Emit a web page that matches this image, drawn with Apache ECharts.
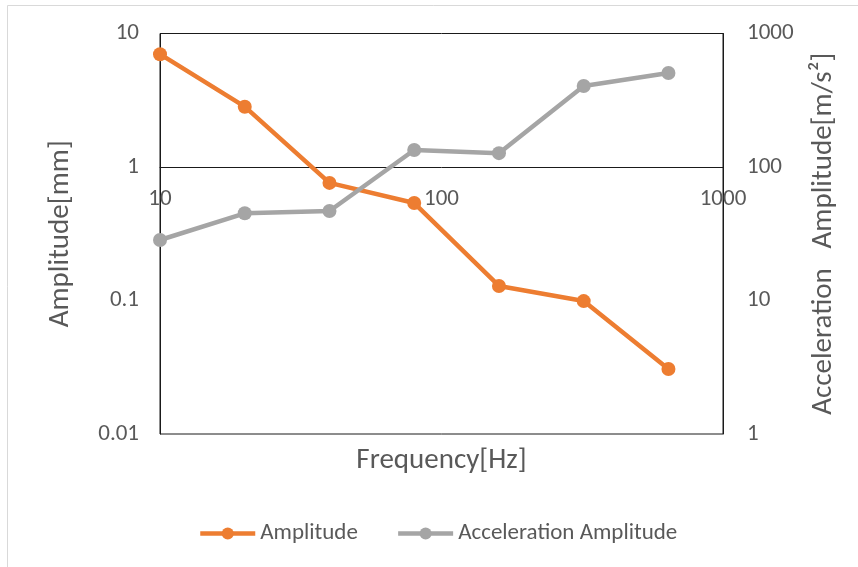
<!DOCTYPE html>
<html>
<head>
<meta charset="utf-8">
<script src="https://cdn.jsdelivr.net/npm/echarts@6/dist/echarts.min.js"></script>
<style>
html,body{margin:0;padding:0;background:#fff;}
#chart{width:858px;height:567px;}
</style>
</head>
<body>
<div id="chart"></div>
<script>
var frequency = [10, 20, 40, 80, 160, 320, 640];
var amplitude = [7.0, 2.83, 0.76, 0.537, 0.1285, 0.099, 0.0307];
var acceleration = [28.4, 45, 46.8, 134, 127, 404, 506];
var seriesNames = ['Amplitude', 'Acceleration Amplitude'];

var FONT = 'Carlito, Lato, sans-serif';
var TXT = '#595959';

function pairs(xs, ys) { return xs.map(function (x, i) { return [x, ys[i]]; }); }
function plain(v) { return String(v); }

var chart = echarts.init(document.getElementById('chart'));
chart.setOption({
  backgroundColor: '#fff',
  animation: false,
  textStyle: { fontFamily: FONT, color: TXT },
  graphic: [{
    type: 'rect', silent: true, z: -1,
    shape: { x: 7.5, y: 5.5, width: 860, height: 570 },
    style: { fill: 'none', stroke: '#d9d9d9', lineWidth: 1 }
  }],
  grid: { left: 160, right: 135, top: 33.5, bottom: 133, show: true, borderColor: '#1a1a1a', borderWidth: 1 },
  legend: {
    top: 517, left: 193,
    itemWidth: 55, itemHeight: 15, itemGap: 38,
    lineStyle: { width: 4.5 },
    textStyle: { fontFamily: FONT, color: TXT, fontSize: 23 },
    data: seriesNames
  },
  xAxis: {
    type: 'log', logBase: 10, min: 10, max: 1000,
    offset: -267,
    axisLine: { show: true, lineStyle: { color: '#1a1a1a', width: 1 } },
    axisTick: { show: false },
    splitLine: { show: false },
    axisLabel: { fontFamily: FONT, color: TXT, fontSize: 23, margin: 21, formatter: plain },
    name: 'Frequency[Hz]', nameLocation: 'middle', nameGap: 279,
    nameTextStyle: { fontFamily: FONT, color: TXT, fontSize: 29 }
  },
  yAxis: [{
    type: 'log', logBase: 10, min: 0.01, max: 10, position: 'left',
    axisLine: { show: true, lineStyle: { color: '#1a1a1a', width: 1 } },
    axisTick: { show: false },
    splitLine: { show: false },
    axisLabel: { fontFamily: FONT, color: TXT, fontSize: 23, margin: 21, formatter: plain },
    name: 'Amplitude[mm]', nameLocation: 'middle', nameGap: 85,
    nameTextStyle: { fontFamily: FONT, color: TXT, fontSize: 29 }
  }, {
    type: 'log', logBase: 10, min: 1, max: 1000, position: 'right',
    axisLine: { show: true, lineStyle: { color: '#1a1a1a', width: 1 } },
    axisTick: { show: false },
    splitLine: { show: false },
    axisLabel: { fontFamily: FONT, color: TXT, fontSize: 23, margin: 24, formatter: plain },
    name: 'Acceleration   Amplitude[m/s²]', nameLocation: 'middle', nameGap: 86,
    nameTextStyle: { fontFamily: FONT, color: TXT, fontSize: 29 }
  }],
  series: [{
    name: seriesNames[0], type: 'line', yAxisIndex: 0,
    data: pairs(frequency, amplitude),
    symbol: 'circle', symbolSize: 14,
    lineStyle: { color: '#ED7D31', width: 4.5 },
    itemStyle: { color: '#ED7D31' }
  }, {
    name: seriesNames[1], type: 'line', yAxisIndex: 1,
    data: pairs(frequency, acceleration),
    symbol: 'circle', symbolSize: 14,
    lineStyle: { color: '#A5A5A5', width: 4.5 },
    itemStyle: { color: '#A5A5A5' }
  }]
});
</script>
</body>
</html>
